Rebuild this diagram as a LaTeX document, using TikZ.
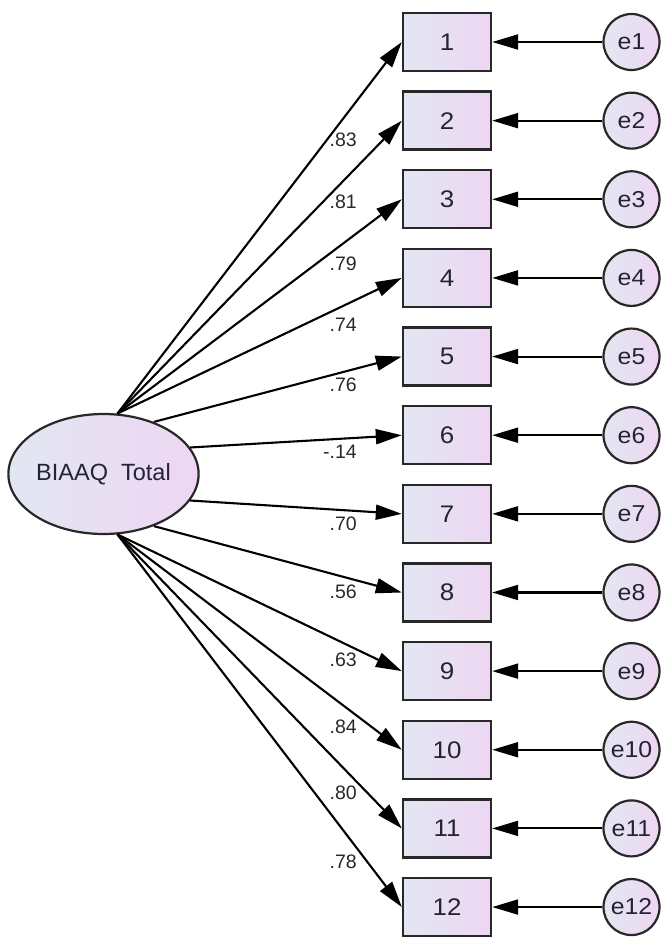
\documentclass[tikz,border=0pt]{standalone}
\usepackage{fontspec}
\setmainfont{Liberation Sans}
\newfontfamily\widefont[FakeStretch=1.08]{Liberation Sans}
\usetikzlibrary{arrows.meta,shapes.geometric}
\definecolor{fillL}{RGB}{226,231,242}
\definecolor{fillR}{RGB}{238,214,242}
\definecolor{txt}{RGB}{35,35,55}
\definecolor{lbl}{RGB}{40,40,40}
\definecolor{bord}{RGB}{40,40,40}
\tikzset{
  obs/.style={draw=bord, line width=2.4pt, rectangle, minimum width=88pt, minimum height=58pt,
    inner sep=0pt, left color=fillL, right color=fillR, text=txt,
    font=\widefont\fontsize{24}{26}\selectfont},
  err/.style={draw=bord, line width=2.2pt, circle, minimum size=56pt, inner sep=0pt,
    left color=fillL, right color=fillR, text=txt,
    font=\widefont\fontsize{23}{25}\selectfont},
  lat/.style={draw=bord, line width=2.2pt, ellipse, minimum width=179pt, minimum height=120pt,
    inner sep=0pt, left color=fillL, right color=fillR, text=txt,
    font=\fontsize{23.5}{25}\selectfont},
  path/.style={line width=2.1pt, -{Triangle[length=26pt,width=15pt]}},
  coef/.style={anchor=east, inner sep=0pt, text=lbl, font=\fontsize{19.5}{21}\selectfont}
}
\begin{document}
\begin{tikzpicture}[x=1pt,y=-1pt]
\useasboundingbox (0,0) rectangle (661,937);
\node[lat] (F) at (103.5,474) {BIAAQ\ \ Total};
\foreach \i in {1,...,12}{
  \node[obs] (b\i) at (447,{42+(\i-1)*78.64}) {\i};
  \node[err] (e\i) at (631.5,{42+(\i-1)*78.64}) {e\i};
  \draw[path] (e\i) -- (b\i);
}
\foreach \i/\a in {1/77,2/77,3/77,4/77,5/46,6/17,7/-17,8/-46,9/-77,10/-77,11/-77,12/-77}{
  \draw[path] (F.\a) -- (b\i.west);
}
\node[coef] (l1) at (357,140) {.83};
\node[coef] (l2) at (357,201.5) {.81};
\node[coef] (l3) at (357,263.5) {.79};
\node[coef] (l4) at (357,325) {.74};
\node[coef] (l5) at (357,385) {.76};
\node[coef] (l6) at (357,452) {-.14};
\node[coef] (l7) at (357,523.5) {.70};
\node[coef] (l8) at (357,592) {.56};
\node[coef] (l9) at (357,660) {.63};
\node[coef] (l10) at (357,727) {.84};
\node[coef] (l11) at (357,793) {.80};
\node[coef] (l12) at (357,862) {.78};
\end{tikzpicture}
\end{document}
